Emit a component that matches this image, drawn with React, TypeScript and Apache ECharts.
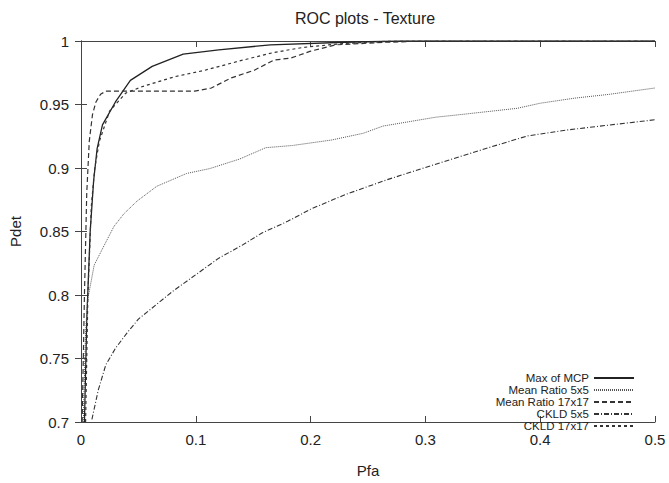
import React, { useEffect, useRef } from "react";
import * as echarts from "echarts";

const TITLE = "ROC plots - Texture";
const X_NAME = "Pfa";
const Y_NAME = "Pdet";

const seriesNames = ["Max of MCP", "Mean Ratio 5x5", "Mean Ratio 17x17", "CKLD 5x5", "CKLD 17x17"];

const maxMCP: [number, number][] = [
  [0.003, 0.7], [0.005, 0.78], [0.008, 0.85], [0.011, 0.89], [0.014, 0.915], [0.0187, 0.934],
  [0.03, 0.952], [0.043, 0.969], [0.062, 0.98], [0.089, 0.9896], [0.12, 0.993], [0.165, 0.997],
  [0.23, 0.999], [0.28, 1], [0.5, 1],
];

const meanRatio5: [number, number][] = [
  [0.002, 0.7], [0.004, 0.77], [0.0057, 0.7957], [0.0115, 0.8236], [0.02, 0.8387], [0.0287, 0.854],
  [0.0374, 0.864], [0.0489, 0.874], [0.066, 0.8856], [0.092, 0.8957], [0.112, 0.8995], [0.138, 0.907],
  [0.161, 0.916], [0.184, 0.9177], [0.218, 0.922], [0.2457, 0.9273], [0.263, 0.933], [0.309, 0.94],
  [0.33, 0.942], [0.36, 0.945], [0.38, 0.947], [0.4, 0.951], [0.43, 0.955], [0.46, 0.958], [0.5, 0.963],
];

const meanRatio17: [number, number][] = [
  [0.001, 0.7], [0.003, 0.8], [0.005, 0.88], [0.0072, 0.921], [0.01, 0.942], [0.013, 0.952],
  [0.017, 0.958], [0.0216, 0.9605], [0.099, 0.9605], [0.1135, 0.963], [0.131, 0.971], [0.151, 0.977],
  [0.168, 0.985], [0.1825, 0.9865], [0.2, 0.992], [0.222, 0.997], [0.266, 0.999], [0.3, 1], [0.5, 1],
];

const ckld5: [number, number][] = [
  [0.0095, 0.702], [0.015, 0.725], [0.0216, 0.745], [0.03, 0.758], [0.04, 0.77], [0.05, 0.781],
  [0.065, 0.792], [0.08, 0.803], [0.1, 0.816], [0.12, 0.829], [0.14, 0.839], [0.158, 0.849],
  [0.18, 0.858], [0.201, 0.868], [0.23, 0.879], [0.266, 0.8906], [0.309, 0.903], [0.355, 0.916],
  [0.389, 0.9253], [0.424, 0.93], [0.5, 0.938],
];

const ckld17: [number, number][] = [
  [0.004, 0.7], [0.006, 0.8], [0.009, 0.87], [0.012, 0.9], [0.016, 0.921], [0.025, 0.945],
  [0.039, 0.959], [0.053, 0.964], [0.082, 0.972], [0.108, 0.977], [0.139, 0.9845], [0.168, 0.991],
  [0.194, 0.995], [0.228, 0.998], [0.27, 1], [0.5, 1],
];

const seriesData = [maxMCP, meanRatio5, meanRatio17, ckld5, ckld17];
const seriesDash: any[] = ["solid", [1, 1], [5, 3], [5, 2, 1, 2], [3, 3]];
const seriesColor = ["#222", "#555", "#333", "#333", "#333"];
const seriesWidth = [1.3, 1, 1.2, 1.1, 1.2];

const FONT = "Liberation Sans, Arial, sans-serif";

export default function App() {
  const ref = useRef<HTMLDivElement>(null);
  useEffect(() => {
    if (!ref.current) return;
    const chart = echarts.init(ref.current, null, { renderer: "svg" });
    const axisLine = { show: true, lineStyle: { color: "#444", width: 1 } };
    const tick = { show: true, inside: true, length: 6, lineStyle: { color: "#444" } };
    const fmt = (v: number) => String(+v.toFixed(2));
    chart.setOption({
      animation: false,
      backgroundColor: "#fff",
      textStyle: { fontFamily: FONT },
      graphic: [
        {
          type: "text",
          x: 365,
          y: 18,
          style: { text: TITLE, fontSize: 16, fontFamily: FONT, fill: "#222", align: "center", verticalAlign: "middle" },
        },
      ],
      grid: { left: 75, right: 14, top: 41, bottom: 47, containLabel: false },
      legend: {
        orient: "vertical",
        right: 29,
        top: 367,
        align: "right",
        itemWidth: 40,
        itemHeight: 8,
        itemGap: 0,
        itemStyle: { color: "transparent", borderColor: "transparent", borderWidth: 0 },
        textStyle: { fontSize: 11.5, fontFamily: FONT, color: "#222", lineHeight: 11.5 },
        data: seriesNames,
      },
      xAxis: [
        {
          type: "value",
          min: 0,
          max: 0.5,
          interval: 0.1,
          name: X_NAME,
          nameLocation: "middle",
          nameGap: 41,
          nameTextStyle: { fontSize: 15, color: "#222", fontFamily: FONT },
          axisLine,
          axisTick: tick,
          axisLabel: { fontSize: 15, color: "#222", margin: 10, formatter: fmt, fontFamily: FONT },
          splitLine: { show: false },
        },
        {
          type: "value",
          position: "top",
          min: 0,
          max: 0.5,
          interval: 0.1,
          axisLine,
          axisTick: tick,
          axisLabel: { show: false },
          splitLine: { show: false },
        },
      ],
      yAxis: [
        {
          type: "value",
          min: 0.7,
          max: 1,
          interval: 0.05,
          name: Y_NAME,
          nameLocation: "middle",
          nameGap: 58,
          nameRotate: 90,
          nameTextStyle: { fontSize: 15, color: "#222", fontFamily: FONT },
          axisLine,
          axisTick: tick,
          axisLabel: { fontSize: 15, color: "#222", margin: 12, formatter: fmt, fontFamily: FONT },
          splitLine: { show: false },
        },
        {
          type: "value",
          position: "right",
          min: 0.7,
          max: 1,
          interval: 0.05,
          axisLine,
          axisTick: tick,
          axisLabel: { show: false },
          splitLine: { show: false },
        },
      ],
      series: seriesNames.map((name, i) => ({
        name,
        type: "line",
        data: seriesData[i],
        symbol: "none",
        smooth: false,
        clip: true,
        color: seriesColor[i],
        lineStyle: { color: seriesColor[i], width: seriesWidth[i], type: seriesDash[i] },
      })),
    });
    return () => chart.dispose();
  }, []);
  return <div ref={ref} style={{ width: 669, height: 483, position: "absolute", left: 0, top: 0 }} />;
}
